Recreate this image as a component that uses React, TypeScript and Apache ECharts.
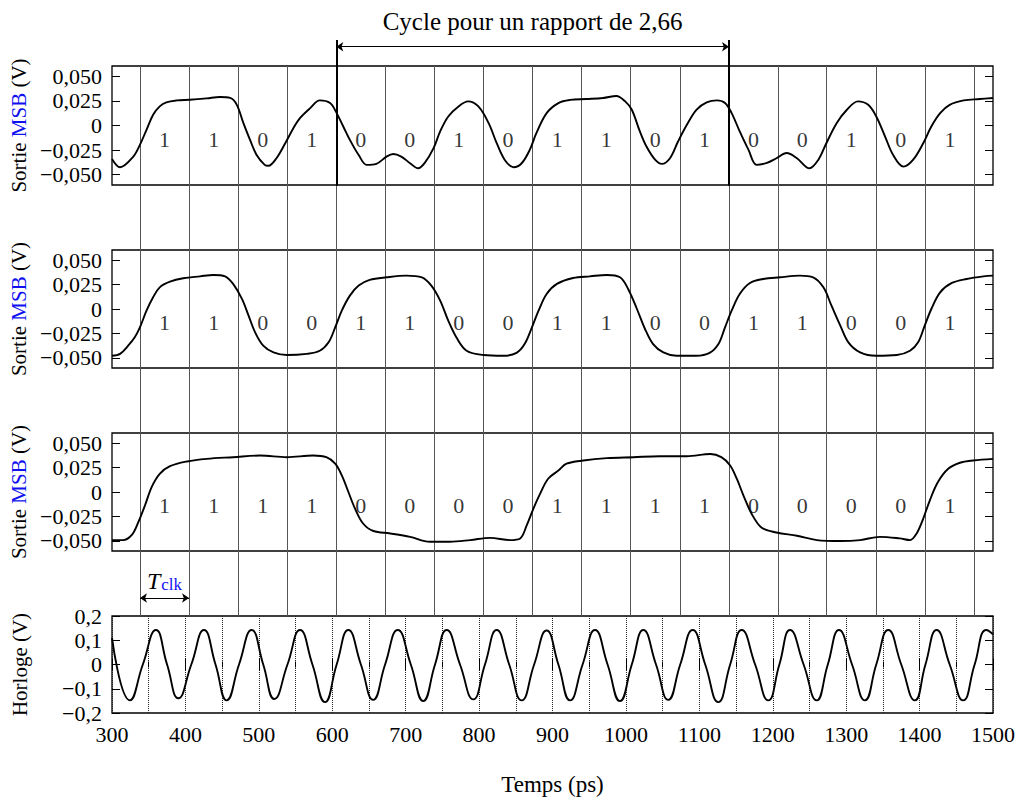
import React, { useEffect, useRef } from 'react';
import * as echarts from 'echarts';

// ---------- data ----------
const xTicks = [300, 400, 500, 600, 700, 800, 900, 1000, 1100, 1200, 1300, 1400, 1500];
const msbTicks = [-0.05, -0.025, 0, 0.025, 0.05];
const clockTicks = [-0.2, -0.1, 0, 0.1, 0.2];

// sampling instants (ps) drawn as vertical lines
const sampleTimes = [338.1, 404.9, 472.0, 538.8, 605.5, 672.2, 738.9, 805.7, 873.0, 939.7, 1006.5, 1073.6, 1140.4, 1207.1, 1273.4, 1340.6, 1408.3, 1474.5];
const cycleStartIdx = 4;
const cycleEndIdx = 12;
const cycleLabel = 'Cycle pour un rapport de 2,66';

const bitsA = [1, 1, 0, 1, 0, 0, 1, 0, 1, 1, 0, 1, 0, 0, 1, 0, 1];
const bitsB = [1, 1, 0, 0, 1, 1, 0, 0, 1, 1, 0, 0, 1, 1, 0, 0, 1];
const bitsC = [1, 1, 1, 1, 0, 0, 0, 0, 1, 1, 1, 1, 0, 0, 0, 0, 1];

const sortieA: [number, number][] = [
  [300, -0.034], [311, -0.0425], [329, -0.0316], [338, -0.0197], [347, -0.0044], [356, 0.0109], [365, 0.0194], [374, 0.0235],
  [388, 0.0255], [406, 0.0262], [429, 0.0276], [447, 0.029], [461, 0.028], [470, 0.021], [479, 0.0024], [488, -0.0146],
  [497, -0.030], [508, -0.040], [513, -0.041], [524, -0.0333], [536, -0.018], [547, -0.0027], [556, 0.0075], [570, 0.0177],
  [583, 0.0255], [597, 0.0228], [606, 0.0126], [615, -0.001], [624, -0.0146], [636, -0.030], [647, -0.040], [660, -0.039],
  [674, -0.0316], [683, -0.029], [694, -0.0316], [706, -0.0384], [717, -0.0435], [726, -0.038], [738, -0.023], [747, -0.006],
  [758, 0.0092], [772, 0.0194], [785, 0.0245], [799, 0.0194], [813, 0.0024], [824, -0.018], [835, -0.035], [847, -0.0425],
  [858, -0.0384], [869, -0.0248], [878, -0.0078], [892, 0.0126], [908, 0.0228], [924, 0.026], [946, 0.0269], [969, 0.028],
  [987, 0.030], [999, 0.0245], [1008, 0.016], [1019, -0.006], [1028, -0.0214], [1040, -0.035], [1049, -0.039], [1060, -0.0333],
  [1071, -0.0163], [1083, 0.0007], [1096, 0.016], [1110, 0.0235], [1124, 0.0255], [1135, 0.0228], [1144, 0.0126], [1155, -0.006],
  [1167, -0.0248], [1178, -0.040], [1192, -0.038], [1205, -0.0333], [1219, -0.028], [1233, -0.0333], [1250, -0.0435], [1262, -0.035],
  [1273, -0.018], [1287, 0.0024], [1301, 0.016], [1316, 0.0245], [1330, 0.021], [1341, 0.0092], [1353, -0.0112], [1364, -0.030],
  [1378, -0.0418], [1391, -0.035], [1405, -0.018], [1416, -0.001], [1428, 0.0126], [1441, 0.021], [1460, 0.0255], [1482, 0.0269],
  [1500, 0.028],
];

const sortieB: [number, number][] = [
  [300, -0.048], [311, -0.046], [322, -0.0376], [331, -0.029], [338, -0.0188], [347, -0.0017], [356, 0.012], [365, 0.0222],
  [379, 0.028], [397, 0.0315], [420, 0.0335], [438, 0.0349], [454, 0.0335], [465, 0.0257], [477, 0.0103], [486, -0.0068],
  [495, -0.024], [506, -0.0376], [520, -0.0445], [538, -0.0472], [565, -0.046], [583, -0.0428], [595, -0.0342], [604, -0.0188],
  [613, -0.0017], [624, 0.0137], [636, 0.024], [651, 0.0298], [674, 0.0325], [701, 0.0342], [722, 0.0325], [735, 0.024],
  [747, 0.0086], [758, -0.012], [769, -0.029], [783, -0.0428], [806, -0.0472], [833, -0.048], [851, -0.045], [862, -0.036],
  [872, -0.0188], [881, -0.0017], [892, 0.0154], [906, 0.0257], [928, 0.0318], [951, 0.0335], [974, 0.0349], [992, 0.0325],
  [1003, 0.0205], [1015, 0], [1026, -0.0205], [1037, -0.036], [1051, -0.0445], [1069, -0.048], [1096, -0.048], [1114, -0.045],
  [1126, -0.036], [1135, -0.0188], [1144, -0.0017], [1155, 0.0154], [1169, 0.0267], [1187, 0.0308], [1210, 0.0325], [1237, 0.0342],
  [1255, 0.0325], [1269, 0.0222], [1280, 0.0034], [1292, -0.017], [1303, -0.0342], [1319, -0.0445], [1341, -0.048], [1369, -0.0472],
  [1387, -0.0428], [1398, -0.0342], [1407, -0.017], [1416, 0], [1428, 0.0171], [1444, 0.0267], [1464, 0.0308], [1487, 0.0335],
  [1500, 0.0342],
];

const sortieC: [number, number][] = [
  [300, -0.0493], [315, -0.0493], [327, -0.044], [336, -0.0306], [345, -0.0136], [354, 0.0051], [365, 0.0187], [379, 0.0265],
  [402, 0.0313], [429, 0.034], [465, 0.0357], [502, 0.0374], [538, 0.0357], [574, 0.0374], [592, 0.0357], [604, 0.029],
  [613, 0.017], [622, 0], [631, -0.017], [642, -0.0323], [656, -0.040], [679, -0.0425], [706, -0.046], [733, -0.051],
  [760, -0.051], [788, -0.0493], [815, -0.047], [842, -0.0493], [856, -0.0476], [865, -0.034], [874, -0.017], [883, -0.002],
  [894, 0.0136], [908, 0.022], [919, 0.029], [942, 0.0323], [974, 0.0347], [1010, 0.0357], [1046, 0.0367], [1083, 0.0367],
  [1115, 0.039], [1130, 0.0357], [1142, 0.0272], [1151, 0.0136], [1160, -0.0034], [1171, -0.022], [1185, -0.0367], [1205, -0.0415],
  [1233, -0.0449], [1260, -0.0493], [1292, -0.0503], [1319, -0.0493], [1346, -0.046], [1373, -0.0476], [1387, -0.0493], [1396, -0.0425],
  [1405, -0.0272], [1414, -0.0085], [1425, 0.0102], [1439, 0.0238], [1455, 0.03], [1473, 0.0323], [1500, 0.034],
];

const horloge: [number, number][] = [
  [300, 0.11], [324.5, -0.148], [342, 0], [359.9, 0.142], [375, 0], [390.3, -0.139], [408, 0], [425.3, 0.142], [441, 0],
  [456.2, -0.148], [473, 0], [490.3, 0.142], [506, 0], [521.0, -0.142], [539, 0], [556.1, 0.142], [573, 0], [590.1, -0.155],
  [606, 0], [621.9, 0.142], [639, 0], [655.8, -0.146], [672, 0], [689.2, 0.142], [707, 0], [723.9, -0.151], [740, 0],
  [755.9, 0.142], [774, 0], [792.1, -0.144], [808, 0], [824.0, 0.142], [841, 0], [858.0, -0.148], [875, 0], [892.0, 0.14],
  [908, 0], [923.8, -0.148], [941, 0], [957.9, 0.142], [975, 0], [991.9, -0.151], [1008, 0], [1023.7, 0.142], [1041, 0],
  [1057.7, -0.146], [1074, 0], [1091.0, 0.142], [1108, 0], [1125.8, -0.155], [1142, 0], [1157.7, 0.142], [1176, 0],
  [1193.9, -0.148], [1209, 0], [1223.5, 0.142], [1242, 0], [1259.8, -0.148], [1275, 0], [1290.2, 0.142], [1308, 0],
  [1325.6, -0.148], [1341, 0], [1357.3, 0.142], [1375, 0], [1393.7, -0.148], [1408, 0], [1423.2, 0.142], [1441, 0],
  [1459.5, -0.148], [1475, 0], [1491.0, 0.142], [1500, 0.125],
];

// ---------- styling ----------
const FONT = 'Liberation Serif';
const BLUE = '#1010f0';

const fmtMsb = (v: number) => (Math.abs(v) < 1e-9 ? '0' : (v < 0 ? '\u2212' : '') + Math.abs(v).toFixed(3).replace('.', ','));
const fmtClk = (v: number) => (Math.abs(v) < 1e-9 ? '0' : (v < 0 ? '\u2212' : '') + Math.abs(v).toFixed(1).replace('.', ','));

const GRID_L = 112;
const GRID_R = 25;

function msbLeftAxis(gridIndex: number) {
  return {
    type: 'value', gridIndex, min: -0.0605, max: 0.0605, position: 'left',
    axisLine: { show: false },
    axisTick: { show: true, inside: true, length: 8, customValues: msbTicks, lineStyle: { color: '#000', width: 1 } },
    axisLabel: { show: true, customValues: msbTicks, formatter: fmtMsb, fontSize: 22, color: '#000', fontFamily: FONT, margin: 10 },
    splitLine: { show: false },
    name: '{a|Sortie }{b|MSB}{a| (V)}',
    nameLocation: 'middle', nameRotate: 90, nameGap: 82,
    nameTextStyle: {
      fontFamily: FONT, fontSize: 21, color: '#000',
      rich: {
        a: { fontFamily: FONT, fontSize: 21, color: '#000' },
        b: { fontFamily: FONT, fontSize: 21, color: BLUE },
      },
    },
  };
}
function msbRightAxis(gridIndex: number) {
  return {
    type: 'value', gridIndex, min: -0.0605, max: 0.0605, position: 'right',
    axisLine: { show: false },
    axisTick: { show: true, inside: true, length: 8, customValues: msbTicks, lineStyle: { color: '#000', width: 1 } },
    axisLabel: { show: false, customValues: msbTicks },
    splitLine: { show: false },
  };
}

function bitSeries(bits: number[], axisIdx: number, yIdx: number) {
  return {
    type: 'scatter', xAxisIndex: axisIdx, yAxisIndex: yIdx, symbolSize: 1, silent: true, z: 6,
    itemStyle: { color: 'rgba(0,0,0,0)' },
    data: bits.map((b, i) => [(sampleTimes[i] + sampleTimes[i + 1]) / 2, -0.0142, b]),
    label: { show: true, position: 'inside', formatter: (p: any) => String(p.value[2]), fontSize: 22, fontFamily: FONT, color: '#000' },
  };
}

function signalSeries(data: [number, number][], xIdx: number, yIdx: number, smooth: number) {
  return {
    type: 'line', xAxisIndex: xIdx, yAxisIndex: yIdx, data, showSymbol: false, symbol: 'none', smooth, z: 5,
    lineStyle: { color: '#000', width: 1.9 }, silent: true,
  };
}

export default function App() {
  const ref = useRef<HTMLDivElement>(null);
  useEffect(() => {
    document.body.style.margin = '0';
    if (!ref.current) return;
    const chart = echarts.init(ref.current, null, { renderer: 'svg' });
    const hiddenX = (gridIndex: number) => ({ type: 'value', gridIndex, min: 300, max: 1500, show: false });
    const option: any = {
      animation: false,
      backgroundColor: '#fff',
      textStyle: { fontFamily: FONT },
      grid: [
        { left: GRID_L, right: GRID_R, top: 66, height: 119, show: true, borderColor: '#000', borderWidth: 1.3, backgroundColor: 'transparent' },
        { left: GRID_L, right: GRID_R, top: 250, height: 118, show: true, borderColor: '#000', borderWidth: 1.3, backgroundColor: 'transparent' },
        { left: GRID_L, right: GRID_R, top: 433, height: 118, show: true, borderColor: '#000', borderWidth: 1.3, backgroundColor: 'transparent' },
        { left: GRID_L, right: GRID_R, top: 616, height: 97, show: true, borderColor: '#000', borderWidth: 1.3, backgroundColor: 'transparent' },
        { left: GRID_L, right: GRID_R, top: 66, height: 550, show: false },
        { left: GRID_L, right: GRID_R, top: 40, height: 146, show: false },
      ],
      xAxis: [
        hiddenX(0), hiddenX(1), hiddenX(2),
        {
          type: 'value', gridIndex: 3, min: 300, max: 1500, interval: 100, position: 'bottom',
          axisLine: { show: false },
          axisTick: { show: true, inside: true, length: 6, lineStyle: { color: '#000' } },
          minorTick: { show: true, splitNumber: 2, length: 3, lineStyle: { color: '#000' } },
          axisLabel: {
            show: true, fontSize: 22, color: '#000', fontFamily: FONT, margin: 10, customValues: xTicks,
            formatter: (v: number) => String(Math.round(v)),
          },
          splitLine: { show: true, lineStyle: { color: '#222', type: 'dotted', width: 1 } },
          minorSplitLine: { show: true, lineStyle: { color: '#222', type: 'dotted', width: 1 } },
          name: 'Temps (ps)', nameLocation: 'middle', nameGap: 60,
          nameTextStyle: { fontSize: 23, color: '#000', fontFamily: FONT },
        },
        {
          type: 'value', gridIndex: 3, min: 300, max: 1500, interval: 100, position: 'top',
          axisLine: { show: false },
          axisTick: { show: true, inside: true, length: 6, lineStyle: { color: '#000' } },
          minorTick: { show: true, splitNumber: 2, length: 3, lineStyle: { color: '#000' } },
          axisLabel: { show: false },
          splitLine: { show: false },
        },
        hiddenX(4), hiddenX(5),
      ],
      yAxis: [
        msbLeftAxis(0), msbRightAxis(0),
        msbLeftAxis(1), msbRightAxis(1),
        msbLeftAxis(2), msbRightAxis(2),
        {
          type: 'value', gridIndex: 3, min: -0.2, max: 0.2, interval: 0.1, position: 'left',
          axisLine: { show: false },
          axisTick: { show: true, inside: true, length: 8, lineStyle: { color: '#000' } },
          axisLabel: { show: true, formatter: fmtClk, fontSize: 22, color: '#000', fontFamily: FONT, margin: 10, customValues: clockTicks },
          splitLine: { show: false },
          name: 'Horloge (V)', nameLocation: 'middle', nameRotate: 90, nameGap: 82,
          nameTextStyle: { fontSize: 21, color: '#000', fontFamily: FONT },
        },
        {
          type: 'value', gridIndex: 3, min: -0.2, max: 0.2, interval: 0.1, position: 'right',
          axisLine: { show: false },
          axisTick: { show: true, inside: true, length: 8, lineStyle: { color: '#000' } },
          axisLabel: { show: false },
          splitLine: { show: false },
        },
        { type: 'value', gridIndex: 4, min: 0, max: 1, show: false },
        { type: 'value', gridIndex: 5, min: 0, max: 1, show: false },
      ],
      series: [
        // sampling instants (vertical lines through the three MSB plots)
        {
          type: 'line', xAxisIndex: 5, yAxisIndex: 8, data: [], silent: true, z: 1,
          markLine: {
            silent: true, symbol: ['none', 'none'], label: { show: false },
            lineStyle: { color: '#555', width: 1, type: 'solid' },
            data: sampleTimes.map((t) => ({ xAxis: t })),
          },
        },
        // T_clk arrow
        {
          type: 'line', xAxisIndex: 5, yAxisIndex: 8, data: [], silent: true, z: 2,
          markLine: {
            silent: true, symbol: ['arrow', 'arrow'], symbolSize: 7,
            lineStyle: { color: '#000', width: 1, type: 'solid' },
            label: {
              show: true, position: 'middle', distance: 5,
              formatter: '{t|T}{s|clk}',
              rich: {
                t: { fontFamily: FONT, fontSize: 24, fontStyle: 'italic', color: '#000', lineHeight: 30, verticalAlign: 'bottom' },
                s: { fontFamily: FONT, fontSize: 17, color: BLUE, lineHeight: 30, verticalAlign: 'bottom', padding: [0, 0, 0, 1] },
              },
            },
            data: [[{ coord: [sampleTimes[0], 0.0327] }, { coord: [sampleTimes[1], 0.0327] }]],
          },
        },
        // cycle markers
        {
          type: 'line', xAxisIndex: 6, yAxisIndex: 9, data: [], silent: true, z: 3,
          markLine: {
            silent: true, symbol: ['none', 'none'], label: { show: false },
            lineStyle: { color: '#000', width: 2, type: 'solid' },
            data: [{ xAxis: sampleTimes[cycleStartIdx] }, { xAxis: sampleTimes[cycleEndIdx] }],
          },
        },
        {
          type: 'line', xAxisIndex: 6, yAxisIndex: 9, data: [], silent: true, z: 3,
          markLine: {
            silent: true, symbol: ['arrow', 'arrow'], symbolSize: 7,
            lineStyle: { color: '#000', width: 1, type: 'solid' },
            label: { show: true, position: 'middle', distance: 13, formatter: cycleLabel, fontSize: 25, fontFamily: FONT, color: '#000' },
            data: [[{ coord: [sampleTimes[cycleStartIdx], 0.954] }, { coord: [sampleTimes[cycleEndIdx], 0.954] }]],
          },
        },
        signalSeries(sortieA, 0, 0, 0.35), bitSeries(bitsA, 0, 0),
        signalSeries(sortieB, 1, 2, 0.35), bitSeries(bitsB, 1, 2),
        signalSeries(sortieC, 2, 4, 0.35), bitSeries(bitsC, 2, 4),
        signalSeries(horloge, 3, 6, 0.5),
      ],
    };
    chart.setOption(option);
    return () => chart.dispose();
  }, []);
  return <div ref={ref} style={{ width: 1018, height: 800 }} />;
}
